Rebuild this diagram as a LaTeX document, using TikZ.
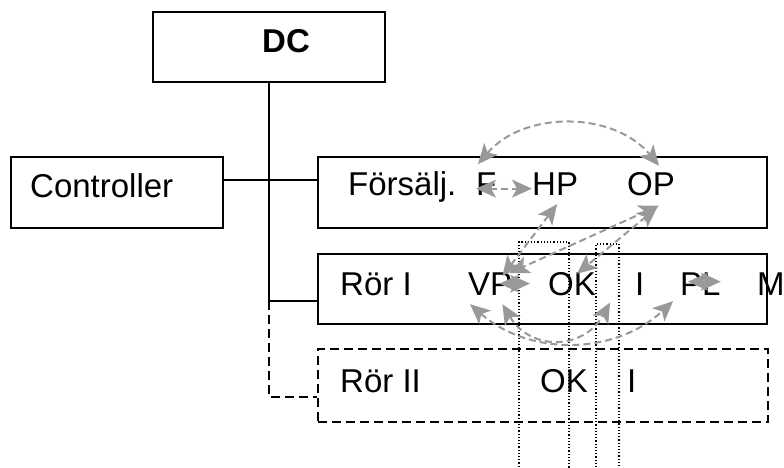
\documentclass[tikz,border=0pt]{standalone}
\usepackage{fontspec}
\setmainfont{Liberation Sans}
\usetikzlibrary{arrows.meta}
\definecolor{DcInk}{HTML}{000000}
\definecolor{DcFlow}{HTML}{999999}
\tikzset{
  dc word/.style={font=\fontsize{33}{40}\selectfont, text=DcInk, inner sep=0pt, anchor=base west},
  dc title/.style={dc word, font=\bfseries\fontsize{33}{40}\selectfont},
  dc box/.style={draw=DcInk, line width=1.6pt, inner sep=0pt},
  dc planned/.style={dc box, dash pattern=on 9pt off 5pt},
  dc link/.style={draw=DcInk, line width=1.4pt},
  dc planned link/.style={dc link, dash pattern=on 9pt off 5pt},
  dc slice/.style={draw=DcInk, line width=1.2pt, dotted, inner sep=0pt},
  dc flow/.style={draw=DcFlow, line width=2pt, dash pattern=on 7pt off 4pt,
    {Stealth[length=20pt,width=18pt,inset=5pt]}-{Stealth[length=20pt,width=18pt,inset=5pt]}},
}

\begin{document}
\begin{tikzpicture}[x=1pt,y=-1pt]
  \useasboundingbox (0,0) rectangle (784,468);

  % Organisation: DC on top, the units hang off one trunk.
  \node[dc box, minimum width=232pt, minimum height=70pt] (dc) at (269,47) {};
  \node[dc title] (dcText) at (262,53) {DC};
  \node[dc box, minimum width=212pt, minimum height=71pt] (ctrl) at (117,192.5) {};
  \node[dc word] (ctrlText) at (30,197) {Controller};
  \node[dc box, minimum width=449pt, minimum height=71pt] (sales) at (542.5,192.5) {};
  \node[dc box, minimum width=449pt, minimum height=70pt] (rorI) at (542.5,289) {};
  \node[dc planned, minimum width=450pt, minimum height=73pt] (rorII) at (543,385.5) {};

  \path ([yshift=-12pt]rorI.west) coordinate (rorIPort)
        ([yshift=-11.5pt]rorII.west) coordinate (rorIIPort);
  \draw[dc link] ([yshift=12.5pt]ctrl.east) -- ([yshift=12.5pt]sales.west);
  \draw[dc link] (dc.south) |- (rorIPort);
  \draw[dc planned link] (dc.south |- rorIPort) |- (rorIIPort);

  % Process steps in each unit.
  \node[dc word] (salesText) at (348,195) {Försälj.};
  \node[dc word] (F) at (476,195) {F};
  \node[dc word] (HP) at (532,195) {HP};
  \node[dc word] (OP) at (627,195) {OP};

  \node[dc word] (rorIText) at (340,295) {Rör I};
  \node[dc word] (VP) at (468,295) {VP};
  \node[dc word] (OK) at (548,295) {OK};
  \node[dc word] (I) at (635,295) {I};
  \node[dc word] (PL) at (680,295) {PL};
  \node[dc word] (M) at (757,295) {M};

  \node[dc word] (rorIIText) at (340,392) {Rör II};
  \node[dc word] (OKtwo) at (540,392) {OK};
  \node[dc word] (Itwo) at (627,392) {I};

  % Shared steps cut through both pipe units.
  \node[dc slice, minimum width=50pt, minimum height=230pt] (okSlice) at (544,357) {};
  \node[dc slice, minimum width=23pt, minimum height=228pt] (iSlice) at (607.5,358) {};

  % Information flows between steps.
  \draw[dc flow] ([xshift=2pt,yshift=8pt]F.north west) to[bend left=50] ([xshift=8pt,yshift=6pt]OP.north);
  \draw[dc flow] ([yshift=-5pt]F.west) -- ([yshift=-5pt]HP.west);
  \draw[dc flow] ([xshift=2pt,yshift=-9pt]HP.south) -- ([xshift=-10pt,yshift=-4pt]VP.north east);
  \draw[dc flow] ([xshift=8pt,yshift=-10pt]OP.south) -- ([xshift=-3pt,yshift=-1pt]VP.north east);
  \draw[dc flow] ([xshift=6pt,yshift=-12pt]OP.south) -- ([xshift=5pt,yshift=-2pt]OK.north);
  \draw[dc flow] ([xshift=-13pt]VP.east) -- ([xshift=-18pt]OK.west);
  \draw[dc flow] ([xshift=8pt,yshift=2pt]PL.west) -- ([yshift=2pt]PL.east);
  \draw[dc flow] ([xshift=2pt,yshift=-9pt]VP.south west) to[bend right=42] ([xshift=-7pt,yshift=-6pt]PL.south west);
  \draw[dc flow] ([xshift=-10pt,yshift=-9pt]VP.south east) to[bend right=60,looseness=1.3] ([xshift=14pt,yshift=-7pt]OK.south east);
\end{tikzpicture}
\end{document}
